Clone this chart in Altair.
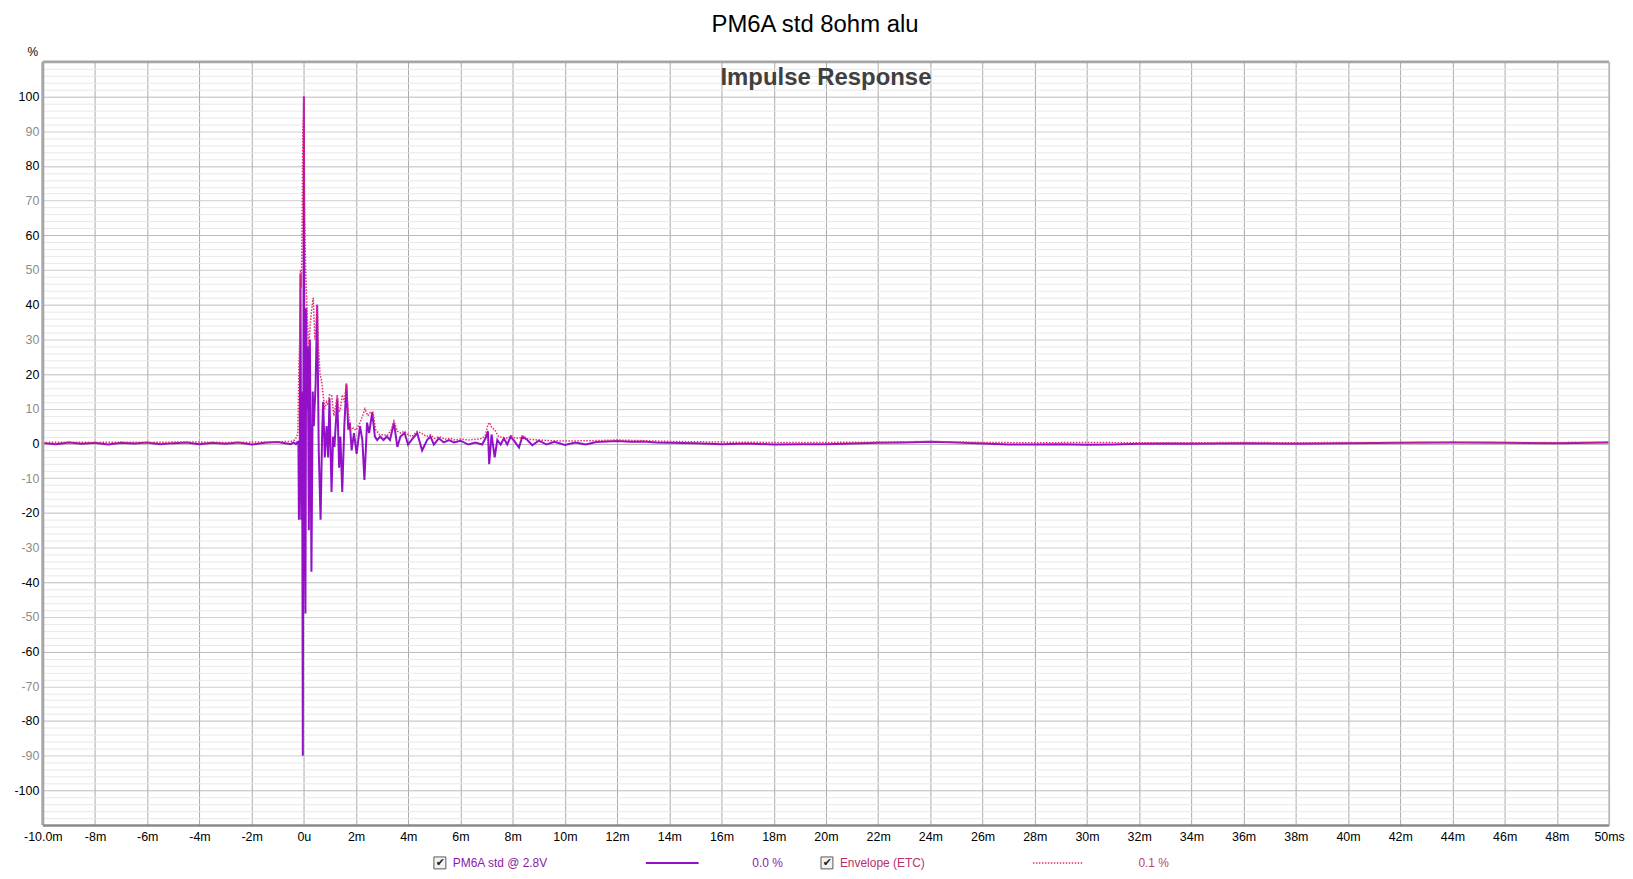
import altair as alt
import pandas as pd

# ---------------- data ----------------
imp_t = [-10.0, -9.5, -9.0, -8.5, -8.0, -7.5, -7.0, -6.5, -6.0, -5.5, -5.0, -4.5, -4.0, -3.5,
         -3.0, -2.5, -2.0, -1.5, -1.0, -0.5, -0.4, -0.3, -0.25, -0.21, -0.19, -0.16, -0.13,
         -0.10, -0.07, -0.04, 0.00, 0.03, 0.06, 0.09, 0.12, 0.15, 0.19, 0.23, 0.29, 0.34,
         0.38, 0.45, 0.51, 0.57, 0.64, 0.70, 0.74, 0.80, 0.87, 0.93, 0.98, 1.06, 1.12, 1.17,
         1.28, 1.35, 1.40, 1.47, 1.55, 1.63, 1.70, 1.76, 1.83, 1.92, 2.02, 2.15, 2.24, 2.32,
         2.42, 2.50, 2.62, 2.72, 2.81, 2.92, 3.05, 3.18, 3.30, 3.45, 3.58, 3.70, 3.86, 3.99,
         4.14, 4.34, 4.53, 4.72, 4.85, 4.98, 5.17, 5.36, 5.56, 5.75, 6.00, 6.30, 6.57, 6.83,
         6.96, 7.05, 7.10, 7.19, 7.31, 7.41, 7.54, 7.66, 7.79, 7.92, 8.05, 8.24, 8.37, 8.56,
         8.75, 9.0, 9.3, 9.6, 10.0, 10.4, 10.8, 11.2, 11.6, 12.0, 12.5, 13.0, 13.5, 14.0,
         15.0, 16.0, 17.0, 18.0, 19.0, 20.0, 21.0, 22.0, 23.0, 24.0, 25.0, 26.0, 27.0, 28.0,
         29.0, 30.0, 31.0, 32.0, 33.0, 34.0, 35.0, 36.0, 37.0, 38.0, 39.0, 40.0, 42.0, 44.0,
         46.0, 48.0, 50.0]
imp_v = [0.1, -0.2, 0.3, -0.1, 0.2, -0.3, 0.2, 0.0, 0.3, -0.2, 0.1, 0.3, -0.2, 0.2,
         -0.1, 0.3, -0.3, 0.2, 0.4, -0.2, 0.3, -0.2, 0.4, 0.5, -22.0, -5.0, 49.0,
         -22.0, 15.0, -90.0, 100.0, -20.0, -49.0, 39.0, 10.0, 28.0, -25.0, 30.0, -37.0, 15.0,
         5.0, 17.0, 40.0, -2.0, -22.0, 3.0, 12.0, -4.0, 5.0, -4.0, 13.0, -14.0, 2.0, -1.0,
         13.0, -7.0, 2.0, -14.0, 5.0, 17.0, 4.0, 6.0, -2.0, 3.0, -3.0, 5.0, 1.0, -10.5,
         6.0, 3.0, 9.0, 2.0, 1.0, 2.0, 1.0, 2.0, 1.0, 6.0, -1.0, 2.0, 3.0, -0.3,
         1.2, 3.0, -2.0, 1.0, 2.0, -0.3, 1.5, 0.3, 1.0, 0.3, 0.8, -0.3, 0.3, -0.3,
         1.5, 3.5, -6.0, 2.6, -4.0, 1.0, -0.3, 1.5, -0.3, 2.0, 0.8, -1.2, 2.0, 1.0,
         -0.5, 0.8, -0.3, 0.5, -0.4, 0.3, -0.3, 0.4, 0.6, 0.7, 0.5, 0.6, 0.3, 0.2,
         0.1, -0.2, 0.0, -0.3, -0.2, -0.2, 0.0, 0.2, 0.3, 0.5, 0.3, 0.0, -0.3, -0.3,
         -0.2, -0.4, -0.3, -0.1, 0.0, -0.1, 0.0, 0.1, 0.0, -0.1, 0.0, 0.1, 0.2, 0.3,
         0.2, 0.1, 0.3]

env_t = [-10.0, -9.0, -8.0, -7.0, -6.0, -5.0, -4.0, -3.0, -2.0, -1.0, -0.5, -0.35, -0.27,
         -0.23, -0.19, -0.16, -0.13, -0.10, -0.07, -0.04, 0.00, 0.03, 0.06, 0.09, 0.14, 0.19,
         0.24, 0.29, 0.36, 0.42, 0.47, 0.51, 0.56, 0.62, 0.68, 0.74, 0.80, 0.87, 0.93, 0.98,
         1.06, 1.15, 1.22, 1.28, 1.35, 1.40, 1.47, 1.55, 1.63, 1.70, 1.80, 1.90, 2.00, 2.15,
         2.25, 2.34, 2.45, 2.55, 2.65, 2.75, 2.90, 3.05, 3.20, 3.35, 3.45, 3.58, 3.70, 3.86,
         4.00, 4.14, 4.34, 4.50, 4.70, 4.85, 5.00, 5.20, 5.40, 5.60, 5.80, 6.00, 6.30, 6.60,
         6.85, 6.96, 7.05, 7.12, 7.20, 7.31, 7.45, 7.60, 7.80, 7.95, 8.10, 8.30, 8.40, 8.60,
         9.0, 9.5, 10.0, 11.0, 12.0, 13.0, 14.0, 16.0, 18.0, 20.0, 22.0, 24.0, 26.0, 28.0,
         30.0, 32.0, 34.0, 36.0, 38.0, 40.0, 42.0, 44.0, 46.0, 48.0, 50.0]
env_v = [0.3, 0.4, 0.3, 0.4, 0.3, 0.4, 0.4, 0.3, 0.4, 0.5, 0.6, 1.0, 2.0,
         3.4, 22.0, 30.0, 50.0, 45.0, 60.0, 90.0, 100.0, 70.0, 52.0, 45.0, 35.0, 28.0,
         34.0, 38.0, 42.0, 30.0, 35.0, 40.0, 28.0, 20.0, 18.0, 14.0, 10.0, 12.0, 11.0, 14.0,
         14.0, 8.0, 11.0, 14.0, 9.0, 10.0, 14.0, 12.0, 17.5, 9.0, 4.0, 4.5, 3.8, 6.0,
         8.0, 10.0, 8.0, 9.0, 9.0, 4.0, 2.5, 2.5, 2.3, 4.0, 6.5, 3.5, 3.0, 3.5,
         2.5, 2.0, 3.5, 3.0, 2.0, 2.5, 1.5, 2.0, 1.2, 1.5, 1.0, 1.3, 1.0, 1.2,
         1.5, 2.5, 5.5, 6.0, 4.5, 4.0, 2.0, 1.8, 1.5, 2.2, 1.5, 1.6, 2.2, 1.2,
         1.0, 0.8, 0.7, 0.8, 1.0, 0.8, 0.6, 0.4, 0.3, 0.3, 0.4, 0.6, 0.3, 0.2,
         0.3, 0.2, 0.2, 0.3, 0.2, 0.3, 0.3, 0.4, 0.3, 0.3, 0.4]

x_ticks = list(range(-10, 51, 2))
x_tick_labels = ["-10.0m", "-8m", "-6m", "-4m", "-2m", "0u", "2m", "4m", "6m", "8m",
                 "10m", "12m", "14m", "16m", "18m", "20m", "22m", "24m", "26m", "28m",
                 "30m", "32m", "34m", "36m", "38m", "40m", "42m", "44m", "46m", "48m", "50ms"]
y_grid = list(range(-110, 111, 2))
y_labels = list(range(-100, 101, 10))

chart_title = "PM6A std 8ohm alu"
plot_title = "Impulse Response"
series_names = ["PM6A std @ 2.8V", "Envelope (ETC)"]
series_values = ["0.0 %", "0.1 %"]

# ---------------- styling ----------------
W, H = 1574, 767
FONT = "Liberation Sans"
PURPLE = "#9410c8"
PINK = "#e62a6e"

df_imp = pd.DataFrame({"t": imp_t, "v": imp_v})
df_env = pd.DataFrame({"t": env_t, "v": env_v})

x_label_expr = "{}[indexof({}, datum.value)]".format(
    "[" + ",".join("'" + s + "'" for s in x_tick_labels) + "]",
    "[" + ",".join(str(v) for v in x_ticks) + "]")
y_label_expr = "indexof({}, datum.value) >= 0 ? datum.value : ''".format(
    "[" + ",".join(str(v) for v in y_labels) + "]")

x_scale = alt.Scale(domain=[-10, 50], nice=False, zero=False)
y_scale = alt.Scale(domain=[-110, 110], nice=False, zero=False)

x_axis = alt.Axis(values=x_ticks, tickCount=200, labelExpr=x_label_expr, title=None, grid=True,
                  gridColor="#a8a8a8", gridWidth=1, domain=False, ticks=False, tickSize=0,
                  labelPadding=5, labelFont=FONT, labelFontSize=12.5, labelColor="#000000",
                  labelFlush=False, labelOverlap=False)
y_axis = alt.Axis(values=y_grid, tickCount=500, labelExpr=y_label_expr, title=None, grid=True,
                  gridColor={"condition": [
                      {"test": "datum.value % 20 === 0", "value": "#bababa"},
                      {"test": "datum.value % 10 === 0", "value": "#cdcdcd"}],
                      "value": "#e8e8e8"},
                  gridWidth=1, domain=False, ticks=False, tickSize=0,
                  labelPadding=4, labelFont=FONT, labelFontSize=12.5,
                  labelColor={"condition": {"test": "datum.value % 20 === 0", "value": "#000000"},
                              "value": "#8c8c8c"},
                  labelFlush=False, labelOverlap=False, labelBaseline="middle")

imp_line = alt.Chart(df_imp).mark_line(color=PURPLE, strokeWidth=2, interpolate="linear").encode(
    x=alt.X("t:Q", scale=x_scale, axis=x_axis),
    y=alt.Y("v:Q", scale=y_scale, axis=y_axis),
)
env_line = alt.Chart(df_env).mark_line(color=PINK, strokeWidth=1.5, strokeDash=[1.5, 1.5]).encode(
    x=alt.X("t:Q", scale=x_scale),
    y=alt.Y("v:Q", scale=y_scale),
)

one = pd.DataFrame({"a": [0]})


def rule(x1, x2, y1, y2, color, width, dash=None):
    kw = dict(color=color, strokeWidth=width)
    if dash is not None:
        kw["strokeDash"] = dash
    return alt.Chart(one).mark_rule(**kw).encode(
        x=alt.value(x1), x2=alt.value(x2), y=alt.value(y1), y2=alt.value(y2))


def text(s, x, y, size=12, color="#000000", bold=False, align="left", font=FONT):
    return alt.Chart(pd.DataFrame({"s": [s]})).mark_text(
        align=align, baseline="middle", font=font, fontSize=size, color=color,
        fontWeight="bold" if bold else "normal").encode(
        x=alt.value(x), y=alt.value(y), text="s:N")


def checkbox(cx, cy):
    box = alt.Chart(one).mark_rect(fill="#f2f2f2", stroke="#5a5a5a", strokeWidth=1).encode(
        x=alt.value(cx - 6), x2=alt.value(cx + 6), y=alt.value(cy - 6), y2=alt.value(cy + 6))
    tick = text("\u2714", cx + 0.5, cy, size=11, color="#1a1a1a", bold=True, align="center",
                font="DejaVu Sans")
    return [box, tick]


borders = [
    rule(0, W, 0, 0, "#a6a6a6", 3),
    rule(0, 0, 0, H, "#a6a6a6", 3),
    rule(0, W, H + 0.5, H + 0.5, "#8a8a8a", 2.5),
    rule(W, W, 0, H, "#b4b4b4", 1.5),
]

LY = 805
legend = []
legend += checkbox(399, LY)
legend.append(text(series_names[0], 412, LY, size=12, color="#8a1aa8"))
legend.append(rule(606, 659, LY, LY, PURPLE, 2))
legend.append(text(series_values[0], 713, LY, size=12, color="#8a1aa8"))
legend += checkbox(788, LY)
legend.append(text(series_names[1], 801, LY, size=12, color="#b8306c"))
legend.append(rule(995, 1046, LY, LY, PINK, 1.5, dash=[1.5, 1.5]))
legend.append(text(series_values[1], 1101, LY, size=12, color="#c04078"))

titles = [
    text(chart_title, 776, -37, size=24, color="#000000", align="center"),
    text(plot_title, 787, 16, size=24, color="#404040", bold=True, align="center"),
    text("%", -10, -10, size=12, color="#000000", align="center"),
]

chart = alt.layer(imp_line, env_line, *borders, *titles, *legend).properties(
    width=W, height=H,
    padding={"left": 35, "top": 52, "right": 16, "bottom": 44},
    autosize=alt.AutoSizeParams(type="none"),
    background="#ffffff",
).configure_view(stroke=None)

chart.save("out.html", embed_options={"renderer": "svg", "actions": False})
